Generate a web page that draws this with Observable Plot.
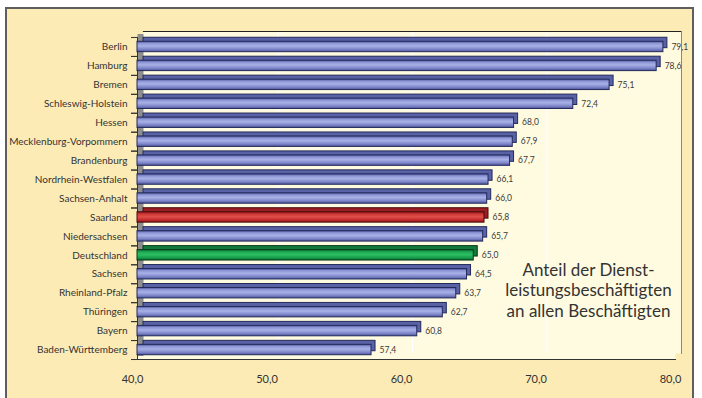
<!DOCTYPE html>
<html>
<head>
<meta charset="utf-8">
<script src="https://cdn.jsdelivr.net/npm/d3@7"></script>
<script src="https://cdn.jsdelivr.net/npm/@observablehq/plot@0.6"></script>
<style>
  html, body { margin: 0; padding: 0; background: #ffffff; }
  #wrap { position: relative; width: 702px; height: 398px; overflow: hidden; background: #ffffff; }
  #panel { position: absolute; left: 5px; top: 7px; width: 685px; height: 400px; border: 2px solid #5e5e5e; background: #fdebb6; }
  #chart { position: absolute; left: 0; top: 0; }
</style>
</head>
<body>
<svg width="0" height="0" style="position:absolute">
  <defs>
    <linearGradient id="gBlue" x1="0" y1="0" x2="0" y2="1">
      <stop offset="0" stop-color="#4c5497"/>
      <stop offset="0.2" stop-color="#8d96d6"/>
      <stop offset="0.45" stop-color="#a9b1e6"/>
      <stop offset="0.75" stop-color="#8088cb"/>
      <stop offset="1" stop-color="#4f579a"/>
    </linearGradient>
    <linearGradient id="gRed" x1="0" y1="0" x2="0" y2="1">
      <stop offset="0" stop-color="#8f1a1d"/>
      <stop offset="0.25" stop-color="#d23a36"/>
      <stop offset="0.5" stop-color="#e0504a"/>
      <stop offset="0.8" stop-color="#c2282a"/>
      <stop offset="1" stop-color="#8a181b"/>
    </linearGradient>
    <linearGradient id="gGreen" x1="0" y1="0" x2="0" y2="1">
      <stop offset="0" stop-color="#0c6e33"/>
      <stop offset="0.25" stop-color="#1fae55"/>
      <stop offset="0.5" stop-color="#2dbd63"/>
      <stop offset="0.8" stop-color="#16994a"/>
      <stop offset="1" stop-color="#0b6a31"/>
    </linearGradient>
  </defs>
</svg>
<div id="wrap">
  <div id="panel"></div>
  <div id="chart"></div>
</div>
<script>
const names = ["Berlin","Hamburg","Bremen","Schleswig-Holstein","Hessen","Mecklenburg-Vorpommern","Brandenburg","Nordrhein-Westfalen","Sachsen-Anhalt","Saarland","Niedersachsen","Deutschland","Sachsen","Rheinland-Pfalz","Thüringen","Bayern","Baden-Württemberg"];
const values = [79.1,78.6,75.1,72.4,68.0,67.9,67.7,66.1,66.0,65.8,65.7,65.0,64.5,63.7,62.7,60.8,57.4];
const redNames = ["Saarland"];
const greenNames = ["Deutschland"];
const xTicks = [40, 50, 60, 70, 80];
const gridTicks = [50, 60, 70];
const xDomain = [40, 80];
const annotation = "Anteil der Dienst-\nleistungsbeschäftigten\nan allen Beschäftigten";

const data = names.map((name, i) => ({
  name,
  value: values[i],
  kind: redNames.includes(name) ? "red" : greenNames.includes(name) ? "green" : "blue"
}));

const fmt = v => d3.format(".1f")(v).replace(".", ",");
const styles = {
  blue:  {front: "url(#gBlue)",  side: "#5a62a6", stroke: "#232a5c"},
  red:   {front: "url(#gRed)",   side: "#9a1f22", stroke: "#4a0c0e"},
  green: {front: "url(#gGreen)", side: "#127a3b", stroke: "#073a1a"}
};
const base = xDomain[0];

const barMarks = [];
for (const kind of ["blue", "red", "green"]) {
  const s = styles[kind];
  barMarks.push(Plot.barX(data, {filter: d => d.kind === kind, x1: base, x2: "value", y: "name", dx: 4, dy: -4, insetLeft: 2, fill: s.side, stroke: s.stroke, strokeWidth: 1}));
  barMarks.push(Plot.barX(data, {filter: d => d.kind === kind, x1: base, x2: "value", y: "name", fill: s.front, stroke: s.stroke, strokeWidth: 1}));
}

const chart = Plot.plot({
  width: 702,
  height: 398,
  marginLeft: 137,
  marginRight: 27,
  marginTop: 37,
  marginBottom: 39,
  style: {background: "transparent", fontFamily: "Lato, 'Open Sans', sans-serif", color: "#333", overflow: "visible"},
  x: {domain: xDomain, label: null, axis: null},
  y: {domain: names, label: null, axis: null, round: false, paddingInner: 0.45, paddingOuter: 0.225},
  marks: [
    Plot.frame({fill: "#fffbe0", stroke: "none"}),
    Plot.frame({fill: "#fffbe0", stroke: "none", dx: 6, dy: -6}),
    Plot.ruleX(gridTicks, {stroke: "#ffffff", strokeWidth: 1.2, dx: 6, dy: -6}),
    Plot.frame({anchor: "top", stroke: "#222", strokeWidth: 1.2, dx: 6, dy: -6}),
    Plot.frame({anchor: "right", stroke: "#888", dx: 6, dy: -6}),
    Plot.ruleX([base], {stroke: "#8e8e8e", strokeWidth: 6, dx: 3, dy: -3}),
    Plot.frame({anchor: "bottom", stroke: "#333"}),
    Plot.frame({anchor: "left", stroke: "#333"}),
    Plot.axisY({tickSize: 6, tickFormat: () => "", dy: 9.5, stroke: "#333"}),
    Plot.axisY({tickSize: 6, tickFormat: () => "", dy: -9.5, stroke: "#333"}),
    ...barMarks,
    Plot.text(data, {x: "value", y: "name", text: d => fmt(d.value), dx: 8, dy: 0, textAnchor: "start", fontSize: 8.5, fill: "#3a3a3a"}),
    Plot.axisY({tickSize: 0, tickPadding: 10, fontSize: 10, fill: "#333"}),
    Plot.axisX({ticks: xTicks, tickSize: 0, tickPadding: 16, dx: -5, tickFormat: fmt, fontSize: 11, fill: "#333"}),
    Plot.text([annotation], {frameAnchor: "bottom-right", dx: -87, dy: -43, textAnchor: "middle", lineAnchor: "bottom", fontSize: 17, lineHeight: 1.18, fill: "#333"})
  ]
});
document.getElementById("chart").appendChild(chart);
</script>
</body>
</html>
